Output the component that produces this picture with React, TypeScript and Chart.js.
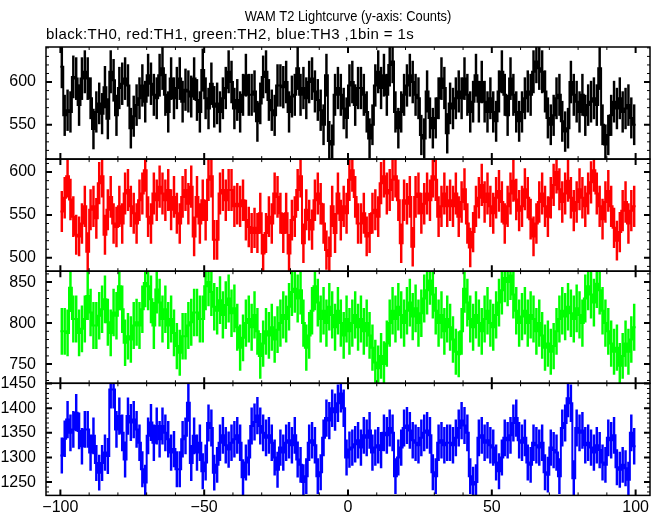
import React, { useEffect, useRef } from 'react';
import { Chart, registerables } from 'chart.js';

Chart.register(...registerables);

// ---------------- data ----------------
const TITLE = 'WAM T2 Lightcurve (y-axis: Counts)';
const SUBTITLE = 'black:TH0, red:TH1, green:TH2, blue:TH3 ,1bin = 1s';

const BIN_START = -100; // left edge of first 1 s bin
const BIN_WIDTH = 1;

const xTickValues = [-100, -50, 0, 50, 100];
const th0Ticks = [550, 600];
const th1Ticks = [500, 550, 600];
const th2Ticks = [750, 800, 850];
const th3Ticks = [1250, 1300, 1350, 1400, 1450];

// TH0 (black) counts per 1 s bin, t = -100 .. 99
const th0 = [
  618, 561, 567, 565, 606, 604, 573, 604, 612, 604, 581, 545, 565, 575, 563, 594, 557, 612, 602, 561,
  593, 598, 604, 596, 546, 560, 573, 581, 596, 577, 608, 598, 585, 581, 608, 616, 585, 565, 604, 581,
  593, 604, 577, 591, 589, 583, 604, 579, 565, 614, 581, 569, 598, 571, 575, 565, 581, 593, 612, 600,
  569, 579, 565, 585, 608, 585, 585, 589, 554, 575, 606, 612, 579, 567, 561, 596, 596, 594, 600, 565,
  583, 585, 616, 585, 593, 581, 600, 604, 589, 579, 567, 550, 608, 531, 527, 585, 593, 585, 569, 558,
  596, 600, 573, 593, 593, 585, 565, 534, 550, 596, 612, 593, 608, 585, 620, 624, 565, 546, 565, 585,
  596, 608, 600, 585, 581, 538, 534, 589, 558, 546, 558, 581, 604, 593, 540, 575, 569, 581, 589, 581,
  604, 585, 565, 577, 608, 577, 600, 577, 565, 581, 565, 554, 589, 612, 585, 561, 604, 585, 565, 554,
  565, 581, 589, 585, 612, 624, 616, 612, 589, 558, 550, 561, 581, 585, 554, 542, 546, 600, 585, 577,
  565, 585, 561, 573, 577, 581, 573, 616, 550, 527, 538, 561, 577, 569, 581, 565, 569, 573, 558, 550,
];

// TH1 (red)
const th1 = [
  554, 570, 595, 568, 548, 527, 525, 540, 560, 507, 556, 560, 546, 587, 595, 527, 556, 571, 540, 536,
  560, 540, 575, 579, 560, 552, 540, 567, 575, 602, 548, 540, 575, 567, 583, 575, 567, 579, 556, 571,
  552, 540, 571, 579, 563, 583, 525, 571, 540, 567, 544, 591, 595, 521, 521, 575, 579, 567, 579, 579,
  560, 563, 560, 567, 544, 536, 529, 535, 529, 552, 505, 529, 548, 540, 575, 571, 552, 529, 552, 505,
  544, 548, 579, 595, 517, 556, 544, 533, 567, 575, 563, 540, 509, 502, 560, 529, 575, 544, 560, 552,
  591, 602, 571, 540, 540, 552, 525, 529, 552, 556, 548, 587, 595, 575, 579, 591, 595, 567, 517, 567,
  563, 571, 513, 571, 575, 552, 563, 575, 567, 595, 591, 548, 560, 575, 560, 567, 560, 575, 548, 565,
  580, 540, 512, 530, 560, 570, 585, 565, 575, 560, 552, 570, 578, 565, 540, 560, 575, 590, 568, 555,
  560, 580, 570, 545, 525, 540, 565, 575, 560, 548, 570, 585, 600, 580, 565, 575, 590, 570, 555, 565,
  580, 570, 560, 575, 588, 602, 575, 560, 545, 565, 578, 560, 535, 520, 530, 555, 565, 540, 555, 560,
];

// TH2 (green)
const th2 = [
  790, 790, 788, 843, 805, 805, 788, 793, 805, 833, 813, 797, 797, 809, 817, 829, 801, 788, 813, 809,
  845, 817, 776, 784, 780, 797, 801, 797, 817, 849, 845, 829, 797, 841, 825, 805, 817, 797, 805, 788,
  772, 764, 784, 784, 797, 801, 813, 813, 805, 805, 845, 850, 838, 820, 815, 828, 810, 822, 830, 812,
  818, 795, 770, 782, 800, 805, 795, 810, 790, 760, 775, 790, 785, 795, 780, 792, 800, 810, 805, 820,
  838, 842, 830, 840, 800, 770, 785, 815, 845, 825, 805, 815, 800, 820, 810, 795, 815, 800, 785, 805,
  790, 800, 810, 795, 805, 790, 800, 785, 770, 752, 745, 760, 750, 775, 800, 815, 805, 820, 810, 800,
  815, 825, 808, 818, 800, 812, 830, 840, 852, 835, 815, 800, 810, 790, 805, 795, 780, 765, 762, 790,
  842, 825, 805, 795, 810, 800, 790, 805, 815, 800, 795, 810, 825, 840, 855, 850, 858, 835, 815, 800,
  808, 815, 800, 810, 805, 790, 800, 785, 770, 775, 765, 772, 790, 805, 815, 808, 820, 812, 805, 818,
  810, 800, 830, 845, 835, 825, 848, 840, 815, 800, 790, 775, 765, 770, 748, 760, 775, 765, 780, 795,
];

// TH3 (blue)
const th3 = [
  1304, 1338, 1377, 1350, 1357, 1391, 1354, 1323, 1357, 1357, 1310, 1344, 1289, 1269, 1289, 1310, 1303, 1438, 1438, 1357,
  1384, 1350, 1296, 1384, 1371, 1377, 1357, 1330, 1276, 1249, 1344, 1371, 1330, 1364, 1337, 1364, 1350, 1337, 1310, 1317,
  1276, 1276, 1337, 1344, 1411, 1289, 1344, 1310, 1330, 1272, 1290, 1370, 1360, 1269, 1285, 1330, 1345, 1325, 1316, 1330,
  1337, 1345, 1330, 1260, 1290, 1300, 1364, 1372, 1385, 1364, 1350, 1340, 1345, 1330, 1300, 1275, 1320, 1310, 1330, 1335,
  1325, 1345, 1296, 1285, 1250, 1262, 1330, 1335, 1325, 1262, 1270, 1340, 1380, 1375, 1400, 1392, 1410, 1430, 1400, 1300,
  1316, 1320, 1327, 1335, 1320, 1345, 1340, 1355, 1310, 1320, 1325, 1315, 1350, 1345, 1360, 1350, 1262, 1300, 1320, 1360,
  1365, 1355, 1335, 1330, 1325, 1340, 1350, 1355, 1345, 1270, 1262, 1330, 1335, 1325, 1330, 1330, 1325, 1340, 1360, 1375,
  1365, 1350, 1262, 1245, 1250, 1340, 1345, 1330, 1335, 1325, 1320, 1290, 1272, 1300, 1340, 1335, 1345, 1370, 1380, 1335,
  1330, 1340, 1290, 1285, 1330, 1325, 1320, 1330, 1270, 1265, 1320, 1315, 1310, 1262, 1360, 1370, 1420, 1410, 1258, 1360,
  1350, 1355, 1325, 1330, 1320, 1310, 1325, 1315, 1290, 1285, 1340, 1335, 1345, 1280, 1275, 1285, 1278, 1255, 1350, 1323,
];

// ---------------- panel setup ----------------
const panels = [
  { id: 'y0', values: th0, color: '#000000', min: 509.8, max: 641, ticks: th0Ticks, weight: 4 },
  { id: 'y1', values: th1, color: '#ff0000', min: 484.4, max: 615.1, ticks: th1Ticks, weight: 3 },
  { id: 'y2', values: th2, color: '#00ff00', min: 726.6, max: 863.3, ticks: th2Ticks, weight: 2 },
  { id: 'y3', values: th3, color: '#0000ff', min: 1223, max: 1450.6, ticks: th3Ticks, weight: 1 },
];

const FONT = "'Liberation Sans', Arial, Helvetica, sans-serif";

function stepPoints(values: number[]) {
  const pts = values.map((v, i) => ({ x: BIN_START + i * BIN_WIDTH, y: v }));
  pts.push({ x: BIN_START + values.length * BIN_WIDTH, y: values[values.length - 1] });
  return pts;
}

function errorBars(values: number[]) {
  return values.map((v, i) => {
    const e = Math.sqrt(v);
    return { x: BIN_START + (i + 0.5) * BIN_WIDTH, y: [v - e, v + e] };
  });
}

const frameTicksPlugin = {
  id: 'frameTicks',
  afterDatasetsDraw(chart: any) {
    const ctx = chart.ctx;
    const xs = chart.scales.x;
    ctx.save();
    ctx.strokeStyle = '#000';
    for (const p of panels) {
      const ys = chart.scales[p.id];
      for (let v = Math.ceil(xs.min / 10) * 10; v <= xs.max; v += 10) {
        const px = xs.getPixelForValue(v);
        const major = v % 50 === 0;
        const len = major ? 6 : 3;
        ctx.lineWidth = major ? 2 : 1;
        ctx.beginPath();
        ctx.moveTo(px, ys.bottom);
        ctx.lineTo(px, ys.bottom - len);
        ctx.moveTo(px, ys.top);
        ctx.lineTo(px, ys.top + len);
        ctx.stroke();
      }
      for (let v = Math.ceil(ys.min / 10) * 10; v <= ys.max; v += 10) {
        const py = ys.getPixelForValue(v);
        const major = v % 50 === 0;
        const len = major ? 6 : 3;
        ctx.lineWidth = major ? 2 : 1;
        ctx.beginPath();
        ctx.moveTo(xs.left, py);
        ctx.lineTo(xs.left + len, py);
        ctx.moveTo(xs.right, py);
        ctx.lineTo(xs.right - len, py);
        ctx.stroke();
      }
      ctx.lineWidth = 1.5;
      ctx.strokeRect(xs.left, ys.top, xs.right - xs.left, ys.bottom - ys.top);
    }
    ctx.restore();
  },
  afterDraw(chart: any) {
    const ctx = chart.ctx;
    const area = chart.chartArea;
    ctx.save();
    ctx.fillStyle = '#000';
    ctx.textBaseline = 'middle';
    ctx.font = `15px ${FONT}`;
    // title: slightly condensed, centred over the plot area
    ctx.save();
    ctx.translate((area.left + area.right) / 2, 17);
    ctx.scale(0.86, 1);
    ctx.textAlign = 'center';
    ctx.fillText(TITLE, 0, 0);
    ctx.restore();
    // subtitle: left aligned with the plot area
    ctx.textAlign = 'left';
    try {
      (ctx as any).letterSpacing = '0.4px';
    } catch (e) {
      /* ignore */
    }
    ctx.fillText(SUBTITLE, area.left, 35);
    ctx.restore();
  },
};

export default function App() {
  const ref = useRef<HTMLCanvasElement | null>(null);

  useEffect(() => {
    if (!ref.current) return;
    const datasets: any[] = [];
    for (const p of panels) {
      datasets.push({
        type: 'line',
        data: stepPoints(p.values),
        yAxisID: p.id,
        xAxisID: 'x',
        borderColor: p.color,
        borderWidth: 2,
        pointRadius: 0,
        stepped: 'before',
        fill: false,
      });
      datasets.push({
        type: 'bar',
        data: errorBars(p.values),
        yAxisID: p.id,
        xAxisID: 'x',
        backgroundColor: p.color,
        borderWidth: 0,
        barThickness: 1.8,
        grouped: false,
      });
    }

    const scales: any = {
      x: {
        type: 'linear',
        position: 'bottom',
        offset: false,
        min: -105,
        max: 105,
        afterBuildTicks: (s: any) => {
          s.ticks = xTickValues.map((v) => ({ value: v }));
        },
        afterFit: (s: any) => {
          s.height = 19;
        },
        grid: { display: false, drawTicks: false, offset: false },
        border: { display: false },
        ticks: {
          color: '#000',
          font: { size: 16, family: FONT },
          padding: 3,
          maxRotation: 0,
          autoSkip: false,
          callback: (v: any) => (v < 0 ? '\u2212' + Math.abs(v) : String(v)),
        },
      },
    };
    for (const p of panels) {
      scales[p.id] = {
        type: 'linear',
        position: 'left',
        stack: 'panels',
        stackWeight: 1,
        weight: p.weight,
        min: p.min,
        max: p.max,
        afterBuildTicks: (s: any) => {
          s.ticks = p.ticks.map((v) => ({ value: v }));
        },
        afterFit: (s: any) => {
          s.width = 46;
        },
        grid: { display: false, drawTicks: false },
        border: { display: false },
        ticks: {
          color: '#000',
          font: { size: 16, family: FONT },
          padding: 10,
          autoSkip: false,
          callback: (v: any) => String(v),
        },
      };
    }

    const chart = new Chart(ref.current, {
      type: 'line',
      data: { datasets },
      options: {
        responsive: false,
        animation: false,
        events: [],
        layout: { padding: { top: 47, right: 12, left: 0, bottom: 0 } },
        plugins: {
          legend: { display: false },
          title: { display: false },
          tooltip: { enabled: false },
        },
        scales,
      },
      plugins: [frameTicksPlugin],
    });
    return () => chart.destroy();
  }, []);

  return (
    <div style={{ position: 'fixed', left: 0, top: 0, width: 662, height: 515, background: '#fff' }}>
      <canvas ref={ref} width={662} height={515} />
    </div>
  );
}
